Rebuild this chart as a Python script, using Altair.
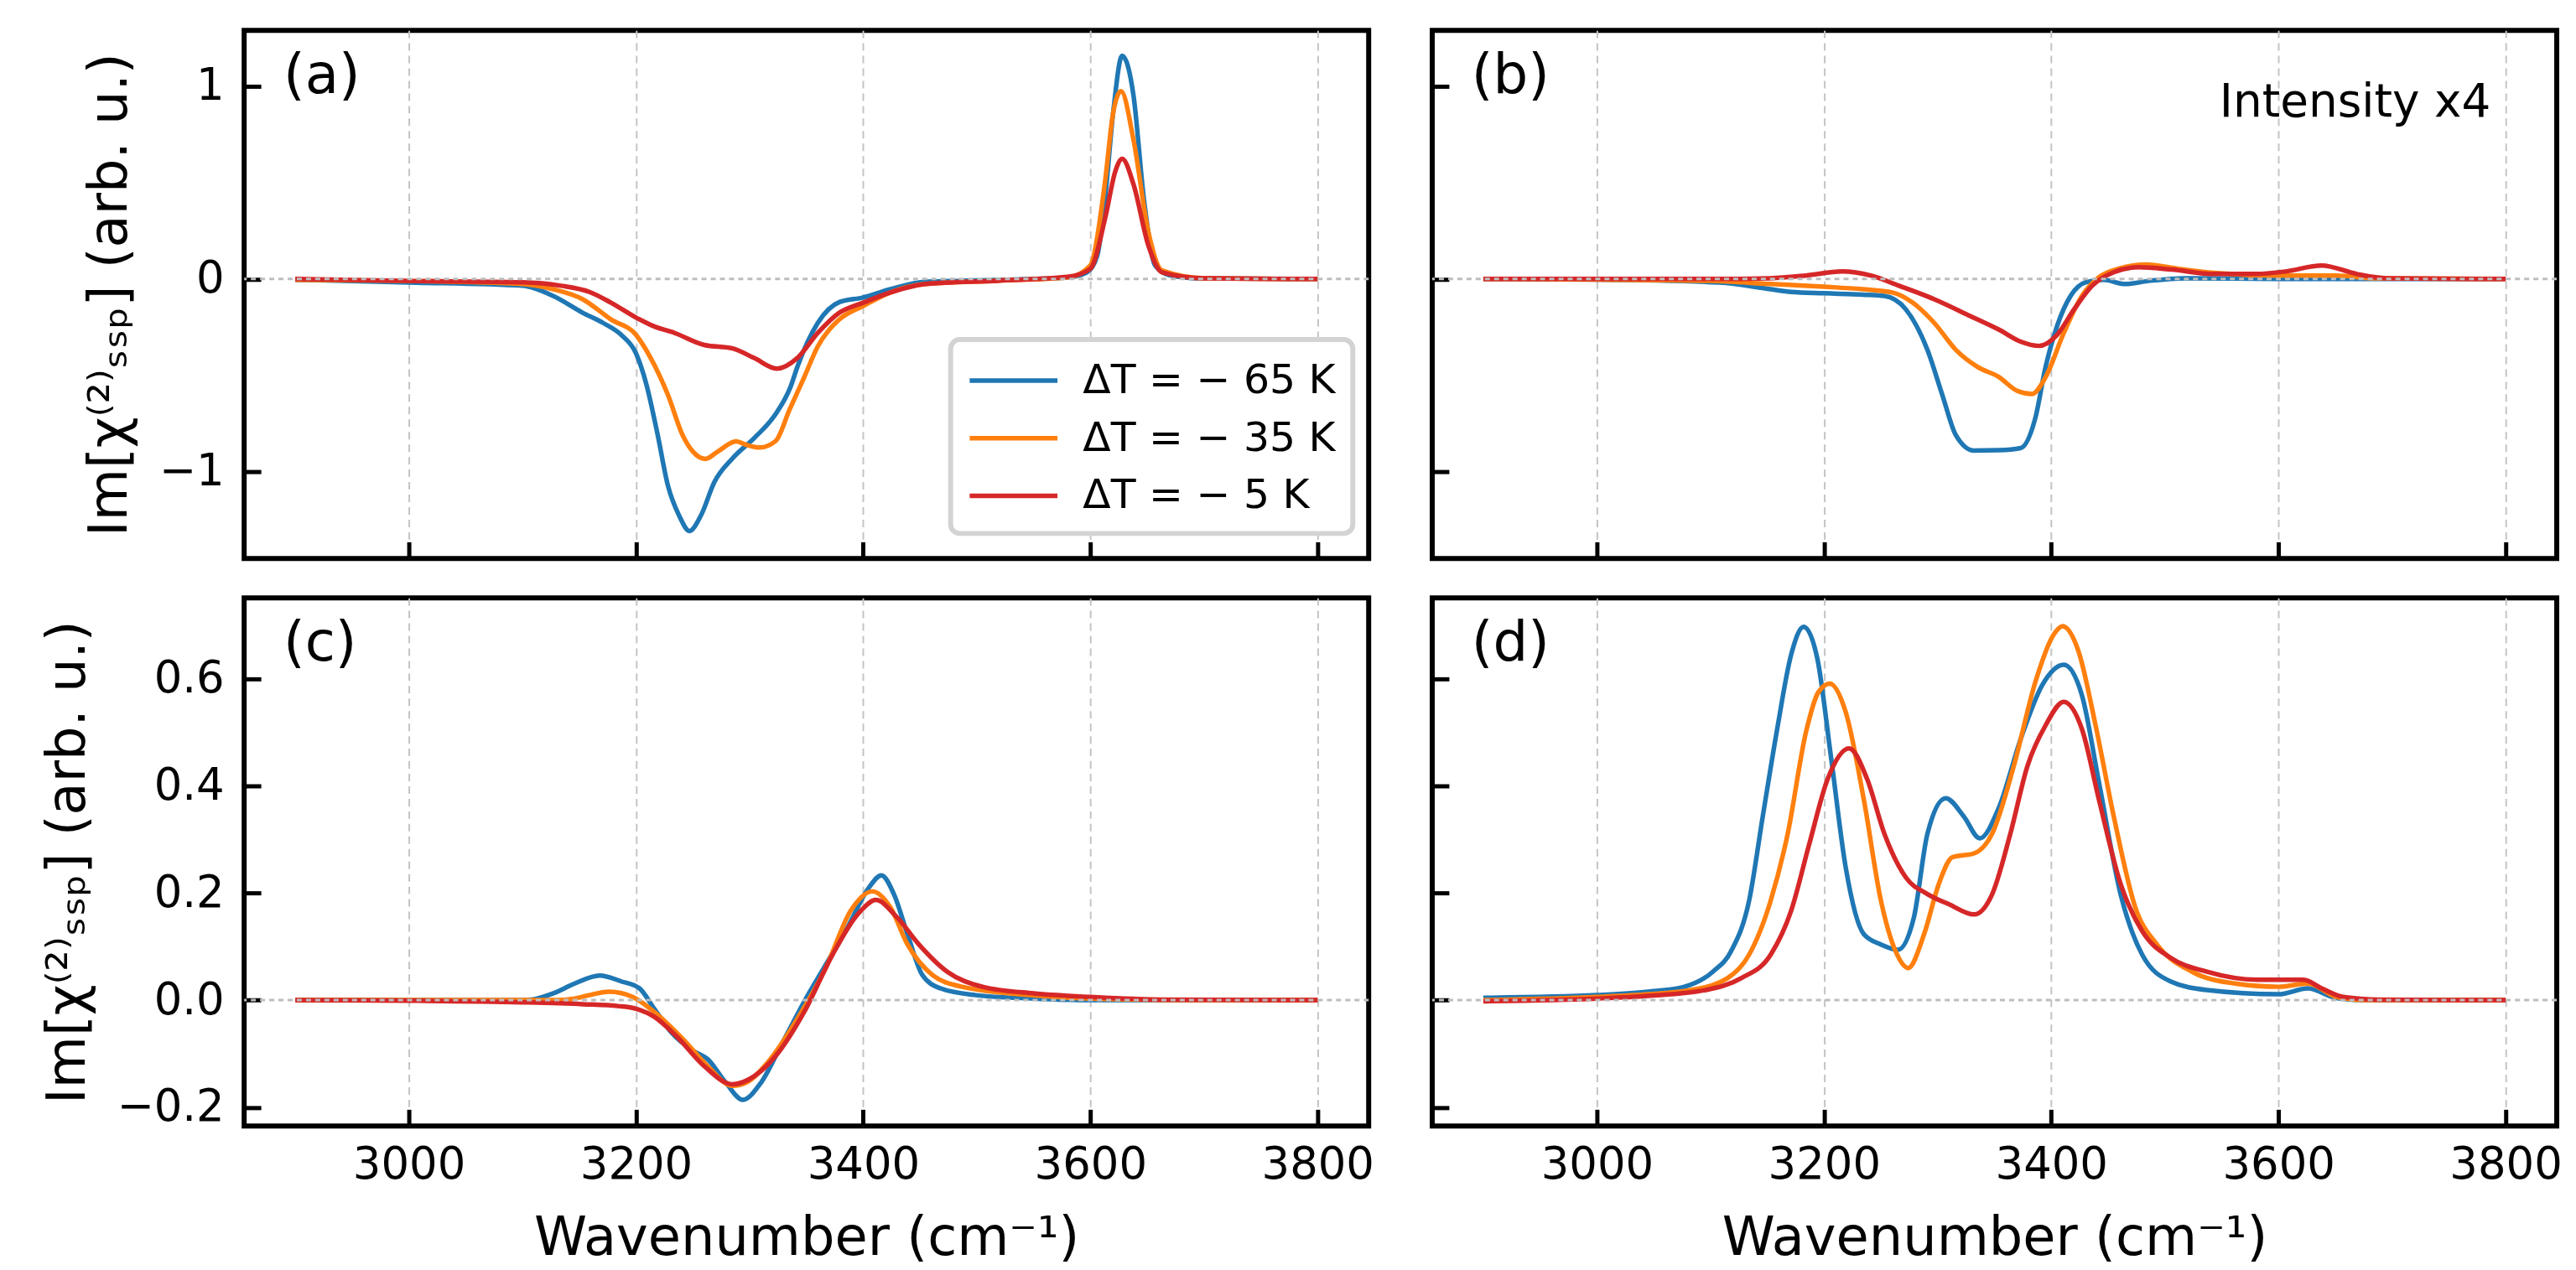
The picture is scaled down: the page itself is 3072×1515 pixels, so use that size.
import altair as alt
import pandas as pd

FONT = "DejaVu Sans"
SERIES = ["ΔT = − 65 K", "ΔT = − 35 K", "ΔT = − 5 K"]
COLORS = ["#1f77b4", "#ff7f0e", "#d62728"]
X_TICKS = [3000, 3200, 3400, 3600, 3800]
TOP_TICKS = [-1, 0, 1]
BOTTOM_TICKS = [-0.2, 0.0, 0.2, 0.4, 0.6]

# ─── panel (a) ───────────────────────────────────────────────────────────────
A_BLUE_WN = [2900, 3000, 3100, 3127, 3153, 3171, 3187, 3200, 3209, 3219, 3228, 3238, 3247, 3257,
             3269, 3285, 3304, 3323, 3336, 3342, 3360, 3379, 3400, 3424, 3455, 3487, 3550, 3581,
             3597, 3606, 3613, 3620, 3628, 3638, 3647, 3657, 3669, 3695, 3800]
A_BLUE = [-0.004, -0.018, -0.035, -0.088, -0.175, -0.228, -0.29, -0.386, -0.544, -0.807, -1.07,
          -1.228, -1.307, -1.228, -1.053, -0.93, -0.825, -0.70, -0.56, -0.456, -0.228, -0.12,
          -0.096, -0.053, -0.014, -0.009, 0.0, 0.009, 0.035, 0.12, 0.42, 0.86, 1.158, 0.95, 0.42,
          0.07, 0.021, 0.004, 0.0]
A_ORANGE_WN = [2900, 3000, 3100, 3127, 3153, 3178, 3200, 3212, 3228, 3241, 3250, 3261, 3272, 3288,
               3297, 3309, 3323, 3335, 3348, 3360, 3379, 3400, 3424, 3455, 3518, 3581, 3600, 3613,
               3620, 3627, 3638, 3651, 3663, 3700, 3800]
A_ORANGE = [-0.004, -0.01, -0.026, -0.053, -0.105, -0.21, -0.29, -0.40, -0.60, -0.81, -0.895,
            -0.933, -0.895, -0.842, -0.86, -0.874, -0.84, -0.68, -0.51, -0.35, -0.21, -0.14, -0.07,
            -0.026, -0.009, 0.009, 0.07, 0.51, 0.86, 0.974, 0.72, 0.245, 0.044, 0.004, 0.0]
A_RED_WN = [2900, 3000, 3100, 3134, 3159, 3178, 3200, 3216, 3234, 3260, 3285, 3304, 3324, 3342,
            3360, 3379, 3400, 3424, 3455, 3518, 3581, 3600, 3613, 3622, 3628, 3638, 3651, 3663,
            3700, 3800]
A_RED = [0.0, -0.01, -0.017, -0.035, -0.067, -0.123, -0.20, -0.246, -0.28, -0.342, -0.36, -0.41,
         -0.465, -0.41, -0.28, -0.175, -0.123, -0.07, -0.026, -0.009, 0.012, 0.053, 0.316, 0.56,
         0.623, 0.49, 0.175, 0.035, 0.004, 0.0]

# ─── panel (b), intensity x4 ─────────────────────────────────────────────────
B_BLUE_WN = [2900, 3000, 3108, 3153, 3171, 3200, 3234, 3253, 3272, 3291, 3304, 3316, 3332, 3354,
             3373, 3386, 3395, 3405, 3417, 3430, 3446, 3465, 3487, 3518, 3600, 3800]
B_BLUE = [0.0, -0.003, -0.018, -0.053, -0.067, -0.074, -0.081, -0.088, -0.158, -0.368, -0.60,
          -0.81, -0.89, -0.888, -0.877, -0.72, -0.456, -0.246, -0.088, -0.018, -0.004, -0.026,
          -0.009, 0.004, 0.0, 0.0]
B_ORANGE_WN = [2900, 3000, 3100, 3153, 3200, 3234, 3260, 3278, 3297, 3316, 3335, 3354, 3370, 3383,
               3395, 3411, 3427, 3442, 3461, 3483, 3512, 3543, 3600, 3651, 3682, 3800]
B_ORANGE = [0.0, -0.003, -0.01, -0.026, -0.04, -0.053, -0.07, -0.123, -0.228, -0.368, -0.456,
            -0.509, -0.58, -0.596, -0.509, -0.28, -0.088, 0.009, 0.056, 0.075, 0.053, 0.032, 0.018,
            0.018, 0.004, 0.0]
B_RED_WN = [2900, 3100, 3153, 3184, 3216, 3241, 3266, 3297, 3329, 3354, 3373, 3389, 3405, 3420,
            3436, 3455, 3477, 3506, 3543, 3581, 3606, 3638, 3669, 3695, 3800]
B_RED = [0.0, 0.0, 0.004, 0.018, 0.039, 0.018, -0.035, -0.105, -0.193, -0.263, -0.325, -0.347,
         -0.29, -0.158, -0.035, 0.035, 0.061, 0.049, 0.026, 0.026, 0.039, 0.07, 0.026, 0.004, 0.0]

# ─── panel (c) ───────────────────────────────────────────────────────────────
C_BLUE_WN = [2900, 3000, 3100, 3108, 3127, 3146, 3168, 3187, 3203, 3216, 3231, 3250, 3263, 3279,
             3294, 3310, 3329, 3348, 3367, 3386, 3405, 3416, 3427, 3439, 3452, 3468, 3499, 3550,
             3600, 3800]
C_BLUE = [0.0, 0.0, 0.0, 0.001, 0.0126, 0.031, 0.046, 0.035, 0.022, -0.016, -0.06, -0.094, -0.11,
          -0.154, -0.186, -0.154, -0.079, -0.003, 0.066, 0.135, 0.21, 0.233, 0.198, 0.123, 0.047,
          0.022, 0.0094, 0.003, 0.0, 0.0]
C_ORANGE_WN = [2900, 3000, 3130, 3146, 3162, 3176, 3197, 3216, 3241, 3263, 3285, 3297, 3316, 3342,
               3367, 3389, 3408, 3424, 3439, 3461, 3487, 3550, 3613, 3700, 3800]
C_ORANGE = [0.0, 0.0, 0.0, 0.003, 0.011, 0.0157, 0.006, -0.022, -0.072, -0.123, -0.16, -0.154,
            -0.116, -0.035, 0.06, 0.167, 0.203, 0.173, 0.104, 0.047, 0.025, 0.009, 0.002, 0.0, 0.0]
C_RED_WN = [2900, 3000, 3100, 3153, 3184, 3200, 3216, 3235, 3260, 3285, 3304, 3323, 3348, 3373,
            3398, 3411, 3430, 3449, 3474, 3505, 3550, 3600, 3663, 3800]
C_RED = [0.0, -0.001, -0.004, -0.0075, -0.011, -0.016, -0.031, -0.066, -0.123, -0.157, -0.142,
         -0.104, -0.022, 0.085, 0.167, 0.187, 0.154, 0.104, 0.053, 0.025, 0.0126, 0.006, 0.001, 0.0]

# ─── panel (d) ───────────────────────────────────────────────────────────────
D_BLUE_WN = [2900, 3000, 3045, 3077, 3102, 3118, 3134, 3146, 3159, 3171, 3182, 3194, 3206, 3219,
             3235, 3250, 3265, 3279, 3291, 3307, 3323, 3337, 3354, 3373, 3392, 3411, 3427, 3442,
             3461, 3480, 3505, 3537, 3600, 3626, 3651, 3676, 3800]
D_BLUE = [0.0044, 0.0094, 0.0157, 0.025, 0.053, 0.091, 0.186, 0.343, 0.51, 0.645, 0.697, 0.638,
          0.455, 0.248, 0.123, 0.104, 0.094, 0.154, 0.311, 0.377, 0.343, 0.302, 0.36, 0.487, 0.588,
          0.626, 0.569, 0.406, 0.198, 0.085, 0.035, 0.019, 0.011, 0.022, 0.004, 0.0, 0.0]
D_ORANGE_WN = [2900, 3000, 3045, 3083, 3115, 3134, 3153, 3168, 3184, 3195, 3205, 3219, 3235, 3250,
               3263, 3274, 3288, 3301, 3313, 3332, 3348, 3367, 3386, 3402, 3410, 3424, 3439, 3455,
               3474, 3493, 3524, 3562, 3600, 3626, 3651, 3676, 3800]
D_ORANGE = [0.0, 0.006, 0.011, 0.019, 0.041, 0.085, 0.186, 0.311, 0.50, 0.575, 0.591, 0.538,
            0.374, 0.186, 0.091, 0.06, 0.123, 0.217, 0.267, 0.274, 0.311, 0.437, 0.594, 0.682,
            0.698, 0.651, 0.513, 0.343, 0.173, 0.104, 0.053, 0.031, 0.025, 0.031, 0.006, 0.0, 0.0]
D_RED_WN = [2900, 3000, 3045, 3096, 3127, 3153, 3171, 3187, 3203, 3222, 3238, 3253, 3272, 3291,
            3310, 3332, 3348, 3364, 3379, 3395, 3411, 3427, 3442, 3461, 3480, 3505, 3537, 3581,
            3622, 3638, 3657, 3689, 3800]
D_RED = [-0.002, 0.003, 0.008, 0.019, 0.041, 0.085, 0.167, 0.292, 0.412, 0.47, 0.412, 0.311,
         0.229, 0.198, 0.179, 0.16, 0.198, 0.311, 0.437, 0.513, 0.557, 0.506, 0.374, 0.217, 0.129,
         0.079, 0.053, 0.038, 0.038, 0.022, 0.006, 0.001, 0.0]

W, H = 1345, 632
X_DOMAIN = [2855, 3845]
TOP_DOMAIN = [-1.45, 1.29]
BOTTOM_DOMAIN = [-0.235, 0.751]
Y_TITLE = "Im[χ⁽²⁾ₛₛₚ] (arb. u.)"
X_TITLE = "Wavenumber (cm⁻¹)"


def _frame(pairs):
    rows = []
    for name, (wn, vals) in zip(SERIES, pairs):
        rows += [{"wn": w, "val": v, "series": name} for w, v in zip(wn, vals)]
    return pd.DataFrame(rows)


def _panel(pairs, y_domain, y_ticks, y_format, tag, bottom, left, legend=None, note=None):
    df = _frame(pairs)
    # ticks point inwards, like matplotlib's direction="in"
    x_axis = alt.Axis(
        values=X_TICKS, format="d", labels=bottom, title=X_TITLE if bottom else None,
        grid=True, gridDash=[9, 6], gridColor="#c4c4c4", gridWidth=2,
        tickSize={"expr": "-20"}, labelPadding=40, titlePadding=30,
    )
    y_axis = alt.Axis(
        values=y_ticks, format=y_format, labels=left, title=Y_TITLE if left else None,
        grid=False, tickSize={"expr": "-20"}, labelPadding=44, titlePadding=26,
    )
    lines = alt.Chart(df).mark_line(strokeWidth=5.5, interpolate="monotone", clip=True).encode(
        x=alt.X("wn:Q", scale=alt.Scale(domain=X_DOMAIN, nice=False, zero=False), axis=x_axis),
        y=alt.Y("val:Q", scale=alt.Scale(domain=y_domain, nice=False, zero=False), axis=y_axis),
        color=alt.Color("series:N", scale=alt.Scale(domain=SERIES, range=COLORS),
                        legend=legend),
        detail="series:N",
    )
    zero = alt.Chart(pd.DataFrame({"y": [0.0]})).mark_rule(
        color="#bdbdbd", strokeWidth=3, strokeDash=[6, 5]
    ).encode(y="y:Q")
    label = alt.Chart(pd.DataFrame({"t": [tag]})).mark_text(
        font=FONT, fontSize=66, align="left", baseline="alphabetic", color="black"
    ).encode(text="t:N", x=alt.value(47), y=alt.value(75))
    layers = [lines, zero, label]
    if note:
        layers.append(
            alt.Chart(pd.DataFrame({"t": [note]})).mark_text(
                font=FONT, fontSize=55, align="right", baseline="alphabetic", color="black"
            ).encode(text="t:N", x=alt.value(1266), y=alt.value(103))
        )
    return alt.layer(*layers).properties(width=W, height=H)


legend_a = alt.Legend(
    title=None, orient="none", legendX=845, legendY=370, direction="vertical",
    symbolType="M-1,0H3", symbolSize=2756, symbolStrokeWidth=5.5,
    labelFontSize=49, labelFont=FONT, labelColor="black", labelOffset=80, labelLimit=600,
    padding=20, rowPadding=15, fillColor="white", strokeColor="#d3d3d3", cornerRadius=11,
)

pa = _panel([(A_BLUE_WN, A_BLUE), (A_ORANGE_WN, A_ORANGE), (A_RED_WN, A_RED)],
            TOP_DOMAIN, TOP_TICKS, "d", "(a)", bottom=False, left=True, legend=legend_a)
pb = _panel([(B_BLUE_WN, B_BLUE), (B_ORANGE_WN, B_ORANGE), (B_RED_WN, B_RED)],
            TOP_DOMAIN, TOP_TICKS, "d", "(b)", bottom=False, left=False, note="Intensity x4")
pc = _panel([(C_BLUE_WN, C_BLUE), (C_ORANGE_WN, C_ORANGE), (C_RED_WN, C_RED)],
            BOTTOM_DOMAIN, BOTTOM_TICKS, ".1f", "(c)", bottom=True, left=True)
pd_ = _panel([(D_BLUE_WN, D_BLUE), (D_ORANGE_WN, D_ORANGE), (D_RED_WN, D_RED)],
             BOTTOM_DOMAIN, BOTTOM_TICKS, ".1f", "(d)", bottom=True, left=False)

chart = (
    alt.concat(pa, pb, pc, pd_, columns=2, spacing={"row": 38, "column": 60})
    .resolve_scale(color="independent")
    .resolve_legend(color="independent")
    .properties(padding={"left": 38, "top": 23, "right": 5, "bottom": 5}, background="white")
    .configure_view(stroke="black", strokeWidth=6)
    .configure_axis(
        labelFont=FONT, titleFont=FONT, labelFontSize=53, titleFontSize=64,
        labelColor="black", titleColor="black", titleFontWeight="normal",
        tickColor="black", tickWidth=5, domain=False,
    )
    .configure_legend(strokeWidth=6)
)

chart.save("out.html", embed_options={"renderer": "svg", "actions": False})
